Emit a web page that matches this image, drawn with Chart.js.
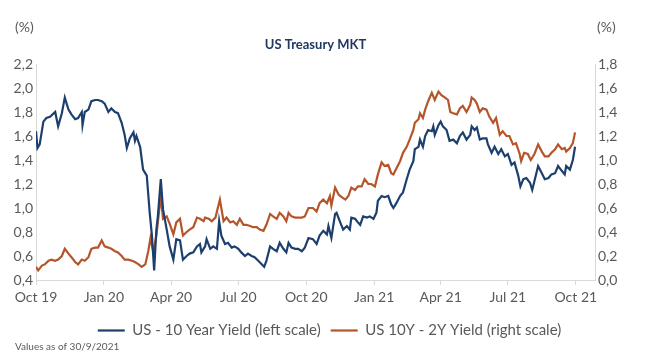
<!DOCTYPE html>
<html>
<head>
<meta charset="utf-8">
<script src="https://cdn.jsdelivr.net/npm/chart.js"></script>
<style>
  body { margin: 0; background: #fff; }
</style>
</head>
<body>
<canvas id="chart" width="659" height="363"></canvas>
<script>
// days counted from 1 Oct 2019
const tickDays = [0, 92, 183, 274, 366, 458, 548, 639, 731];
const tickLabels = ["Oct 19", "Jan 20", "Apr 20", "Jul 20", "Oct 20", "Jan 21", "Apr 21", "Jul 21", "Oct 21"];

const tenYearDays = [0, 2, 5, 10, 14, 19, 26, 30, 35, 39, 44, 48, 53, 57, 62, 63, 66, 71, 75, 80, 84, 89, 93, 98, 102, 107, 111, 116, 120, 123, 127, 132, 134, 136, 141, 145, 150, 154, 157, 160, 163, 165, 169, 172, 177, 181, 186,
  190, 195, 199, 204, 208, 213, 218, 222, 224, 229, 231, 236, 240, 245, 248, 251, 256, 260, 265, 269, 274, 278, 283, 287, 292, 296, 301, 306, 309, 312, 317, 321, 326, 330, 335, 339, 342, 346, 351, 355, 360, 364, 369,
  375, 380, 384, 389, 394, 396, 400, 405, 407, 412, 416, 421, 425, 427, 432, 436, 439, 443, 448, 452, 457, 461, 463, 468, 472, 477, 481, 484, 488, 493, 497, 502, 506, 511, 513, 518, 520, 524, 527, 531, 536, 538, 540, 545, 548, 551, 556,
  560, 565, 570, 574, 578, 583, 588, 590, 594, 597, 601, 605, 610, 612, 617, 621, 626, 630, 635, 639, 644, 648, 653, 656, 660, 664, 669, 672, 676, 680, 685, 689, 694, 698, 703, 707, 712, 716, 718, 723, 727, 730];
const tenYearValues = [1.64, 1.50, 1.53, 1.72, 1.75, 1.76, 1.80, 1.68, 1.79, 1.92, 1.82, 1.78, 1.74, 1.75, 1.80, 1.69, 1.80, 1.82, 1.89, 1.90, 1.90, 1.89, 1.87, 1.80, 1.83, 1.80, 1.79, 1.71, 1.61, 1.50, 1.58, 1.63, 1.56, 1.60, 1.51, 1.32, 1.27, 0.96, 0.77, 0.48, 0.82, 0.93, 1.24, 0.99, 0.82, 0.68, 0.57,
  0.74, 0.73, 0.57, 0.60, 0.62, 0.63, 0.68, 0.70, 0.63, 0.68, 0.74, 0.66, 0.68, 0.66, 0.89, 0.77, 0.70, 0.71, 0.67, 0.68, 0.66, 0.63, 0.60, 0.62, 0.60, 0.59, 0.56, 0.53, 0.51, 0.56, 0.68, 0.66, 0.64, 0.71, 0.66, 0.63, 0.71, 0.67, 0.66, 0.66, 0.64, 0.67, 0.75,
  0.74, 0.70, 0.77, 0.81, 0.78, 0.85, 0.75, 0.95, 0.96, 0.88, 0.82, 0.85, 0.82, 0.92, 0.91, 0.88, 0.86, 0.93, 0.92, 0.93, 0.91, 0.96, 1.06, 1.10, 1.09, 1.10, 1.03, 1.00, 1.04, 1.10, 1.13, 1.24, 1.32, 1.39, 1.49, 1.51, 1.57, 1.51, 1.60, 1.65, 1.64, 1.68, 1.61, 1.69, 1.72, 1.68, 1.65,
  1.56, 1.57, 1.54, 1.60, 1.63, 1.57, 1.61, 1.68, 1.65, 1.67, 1.57, 1.58, 1.58, 1.53, 1.46, 1.51, 1.45, 1.49, 1.43, 1.45, 1.36, 1.38, 1.27, 1.18, 1.24, 1.25, 1.21, 1.15, 1.25, 1.35, 1.29, 1.24, 1.25, 1.28, 1.29, 1.35, 1.31, 1.28, 1.35, 1.32, 1.40, 1.51];

const spreadDays = [0, 3, 8, 12, 17, 21, 26, 30, 35, 39, 44, 48, 53, 57, 62, 66, 71, 75, 80, 84, 89, 93, 98, 102, 107, 111, 116, 120, 125, 130, 134, 139, 143, 148, 152, 155, 159, 163, 169, 172, 177, 181, 186,
  190, 195, 199, 204, 208, 213, 218, 222, 227, 229, 234, 238, 243, 249, 254, 258, 263, 267, 272, 276, 281, 285, 290, 294, 299, 303, 308, 312, 317, 321, 326, 330, 335, 339, 342, 346, 351, 355, 360, 364, 369,
  375, 380, 384, 389, 394, 398, 400, 405, 410, 414, 419, 423, 427, 432, 436, 441, 445, 450, 454, 459, 463, 468, 472, 477, 481, 484, 488, 493, 497, 502, 506, 511, 513, 518, 520, 524, 527, 531, 536, 540, 545, 549, 554, 558,
  561, 565, 570, 574, 578, 583, 588, 590, 594, 597, 601, 605, 610, 614, 619, 623, 628, 632, 637, 641, 646, 650, 655, 657, 661, 666, 670, 675, 680, 685, 689, 694, 698, 703, 707, 712, 716, 718, 723, 727, 730];
const spreadValues = [0.11, 0.08, 0.12, 0.13, 0.16, 0.17, 0.16, 0.17, 0.20, 0.26, 0.22, 0.19, 0.15, 0.13, 0.17, 0.16, 0.19, 0.26, 0.27, 0.27, 0.33, 0.28, 0.27, 0.26, 0.24, 0.23, 0.20, 0.17, 0.17, 0.16, 0.15, 0.13, 0.11, 0.13, 0.24, 0.35, 0.23, 0.37, 0.70, 0.51, 0.53, 0.47, 0.38,
  0.48, 0.51, 0.37, 0.40, 0.42, 0.44, 0.52, 0.51, 0.49, 0.52, 0.51, 0.49, 0.52, 0.67, 0.49, 0.52, 0.48, 0.49, 0.46, 0.51, 0.46, 0.46, 0.45, 0.44, 0.44, 0.42, 0.41, 0.46, 0.55, 0.53, 0.51, 0.56, 0.53, 0.49, 0.56, 0.53, 0.52, 0.52, 0.52, 0.53, 0.60,
  0.60, 0.57, 0.64, 0.67, 0.64, 0.70, 0.62, 0.77, 0.71, 0.69, 0.67, 0.70, 0.77, 0.75, 0.78, 0.78, 0.84, 0.80, 0.80, 0.78, 0.88, 0.98, 0.95, 0.96, 0.89, 0.88, 0.93, 0.99, 1.06, 1.11, 1.17, 1.25, 1.31, 1.34, 1.39, 1.35, 1.42, 1.49, 1.56, 1.50, 1.57, 1.54, 1.52, 1.50,
  1.40, 1.39, 1.38, 1.43, 1.45, 1.40, 1.46, 1.52, 1.50, 1.47, 1.40, 1.43, 1.42, 1.36, 1.31, 1.35, 1.21, 1.24, 1.20, 1.20, 1.13, 1.14, 1.05, 0.99, 1.06, 1.05, 1.00, 1.05, 1.13, 1.07, 1.03, 1.03, 1.06, 1.09, 1.13, 1.09, 1.10, 1.07, 1.10, 1.14, 1.23];

const blue = "#1c3f6e";
const orange = "#b5552b";
const grey = "#595959";
const axisGrey = "#d9d9d9";
const font = "Lato";

const commaFmt = v => v.toFixed(1).replace(".", ",");

const extraText = {
  id: "extraText",
  afterDraw(chart) {
    const ctx = chart.ctx;
    const area = chart.chartArea;
    ctx.save();
    ctx.textBaseline = "middle";
    ctx.fillStyle = grey;
    ctx.font = "14px " + font;
    ctx.textAlign = "left";
    ctx.fillText("(%)", 15, 27);
    ctx.fillText("(%)", 597, 27);
    ctx.font = "10px " + font;
    ctx.fillText("Values as of 30/9/2021", 15, 347);
    ctx.font = "bold 13px " + font;
    ctx.fillStyle = "#1f3864";
    ctx.textAlign = "center";
    ctx.fillText("US Treasury MKT", (area.left + area.right) / 2, 45);
    ctx.restore();
  }
};

new Chart(document.getElementById("chart"), {
  type: "line",
  data: {
    datasets: [
      {
        label: "US - 10 Year Yield (left scale)",
        data: tenYearDays.map((d, i) => ({ x: d, y: tenYearValues[i] })),
        borderColor: blue,
        backgroundColor: blue,
        borderWidth: 2.2,
        pointRadius: 0,
        tension: 0,
        yAxisID: "yLeft"
      },
      {
        label: "US 10Y - 2Y Yield (right scale)",
        data: spreadDays.map((d, i) => ({ x: d, y: spreadValues[i] })),
        borderColor: orange,
        backgroundColor: orange,
        borderWidth: 2.2,
        pointRadius: 0,
        tension: 0,
        yAxisID: "yRight"
      }
    ]
  },
  options: {
    responsive: false,
    devicePixelRatio: 1,
    animation: false,
    layout: { padding: { top: 64, left: 0, right: 0, bottom: 15 } },
    plugins: {
      legend: {
        position: "bottom",
        labels: {
          usePointStyle: true,
          pointStyle: "line",
          pointStyleWidth: 27,
          color: grey,
          font: { family: font, size: 15 },
          padding: 10
        }
      },
      tooltip: { enabled: false }
    },
    scales: {
      x: {
        type: "linear",
        min: 0,
        max: 757,
        afterBuildTicks: scale => { scale.ticks = tickDays.map(v => ({ value: v })); },
        afterFit: scale => { scale.height = 33; },
        ticks: {
          autoSkip: false,
          maxRotation: 0,
          padding: 4,
          color: grey,
          font: { family: font, size: 14 },
          callback: v => tickLabels[tickDays.indexOf(v)]
        },
        grid: { drawOnChartArea: false, tickLength: 5, color: axisGrey },
        border: { color: axisGrey }
      },
      yLeft: {
        position: "left",
        min: 0.4,
        max: 2.2,
        afterFit: scale => { scale.width = 36; },
        ticks: {
          stepSize: 0.2,
          padding: 3,
          color: grey,
          font: { family: font, size: 14 },
          callback: v => commaFmt(v)
        },
        grid: { display: false, drawTicks: false },
        border: { color: axisGrey }
      },
      yRight: {
        position: "right",
        min: 0,
        max: 1.8,
        afterFit: scale => { scale.width = 64; },
        ticks: {
          stepSize: 0.2,
          padding: 3,
          color: grey,
          font: { family: font, size: 14 },
          callback: v => commaFmt(v)
        },
        grid: { display: false, drawTicks: false },
        border: { color: axisGrey }
      }
    }
  },
  plugins: [extraText]
});
</script>
</body>
</html>
